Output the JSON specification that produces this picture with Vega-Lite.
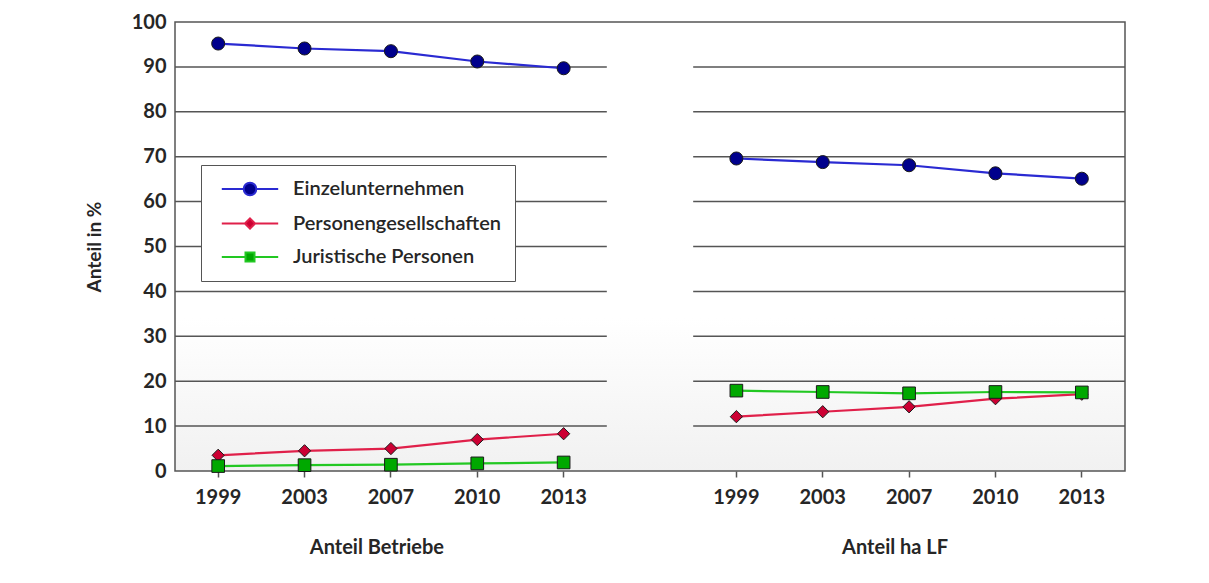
{
  "$schema": "https://vega.github.io/schema/vega-lite/v6.json",
  "width": 950,
  "height": 449,
  "autosize": {"type": "none"},
  "padding": {"left": 175, "top": 22, "right": 84, "bottom": 112},
  "background": "white",
  "config": {
    "font": "Lato",
    "view": {"stroke": "#555555", "strokeWidth": 1.5,
             "fill": {"expr": "{gradient: 'linear', x1: 0, y1: 0, x2: 0, y2: 1, stops: [{offset: 0, color: '#ffffff'}, {offset: 0.66, color: '#ffffff'}, {offset: 1, color: '#f1f1f1'}]}"}}
  },
  "datasets": {
    "grid": [
      {"g": "Anteil Betriebe", "v": 10}, {"g": "Anteil Betriebe", "v": 20}, {"g": "Anteil Betriebe", "v": 30},
      {"g": "Anteil Betriebe", "v": 40}, {"g": "Anteil Betriebe", "v": 50}, {"g": "Anteil Betriebe", "v": 60},
      {"g": "Anteil Betriebe", "v": 70}, {"g": "Anteil Betriebe", "v": 80}, {"g": "Anteil Betriebe", "v": 90},
      {"g": "Anteil ha LF", "v": 10}, {"g": "Anteil ha LF", "v": 20}, {"g": "Anteil ha LF", "v": 30},
      {"g": "Anteil ha LF", "v": 40}, {"g": "Anteil ha LF", "v": 50}, {"g": "Anteil ha LF", "v": 60},
      {"g": "Anteil ha LF", "v": 70}, {"g": "Anteil ha LF", "v": 80}, {"g": "Anteil ha LF", "v": 90}
    ],
    "d": [
      {"g": "Anteil Betriebe", "k": "Anteil Betriebe 1999", "s": "Einzelunternehmen", "v": 95.2},
      {"g": "Anteil Betriebe", "k": "Anteil Betriebe 2003", "s": "Einzelunternehmen", "v": 94.1},
      {"g": "Anteil Betriebe", "k": "Anteil Betriebe 2007", "s": "Einzelunternehmen", "v": 93.5},
      {"g": "Anteil Betriebe", "k": "Anteil Betriebe 2010", "s": "Einzelunternehmen", "v": 91.2},
      {"g": "Anteil Betriebe", "k": "Anteil Betriebe 2013", "s": "Einzelunternehmen", "v": 89.7},
      {"g": "Anteil Betriebe", "k": "Anteil Betriebe 1999", "s": "Personengesellschaften", "v": 3.5},
      {"g": "Anteil Betriebe", "k": "Anteil Betriebe 2003", "s": "Personengesellschaften", "v": 4.5},
      {"g": "Anteil Betriebe", "k": "Anteil Betriebe 2007", "s": "Personengesellschaften", "v": 5.0},
      {"g": "Anteil Betriebe", "k": "Anteil Betriebe 2010", "s": "Personengesellschaften", "v": 7.0},
      {"g": "Anteil Betriebe", "k": "Anteil Betriebe 2013", "s": "Personengesellschaften", "v": 8.3},
      {"g": "Anteil Betriebe", "k": "Anteil Betriebe 1999", "s": "Juristische Personen", "v": 1.1},
      {"g": "Anteil Betriebe", "k": "Anteil Betriebe 2003", "s": "Juristische Personen", "v": 1.3},
      {"g": "Anteil Betriebe", "k": "Anteil Betriebe 2007", "s": "Juristische Personen", "v": 1.4},
      {"g": "Anteil Betriebe", "k": "Anteil Betriebe 2010", "s": "Juristische Personen", "v": 1.7},
      {"g": "Anteil Betriebe", "k": "Anteil Betriebe 2013", "s": "Juristische Personen", "v": 1.9},
      {"g": "Anteil ha LF", "k": "Anteil ha LF 1999", "s": "Einzelunternehmen", "v": 69.6},
      {"g": "Anteil ha LF", "k": "Anteil ha LF 2003", "s": "Einzelunternehmen", "v": 68.8},
      {"g": "Anteil ha LF", "k": "Anteil ha LF 2007", "s": "Einzelunternehmen", "v": 68.1},
      {"g": "Anteil ha LF", "k": "Anteil ha LF 2010", "s": "Einzelunternehmen", "v": 66.3},
      {"g": "Anteil ha LF", "k": "Anteil ha LF 2013", "s": "Einzelunternehmen", "v": 65.1},
      {"g": "Anteil ha LF", "k": "Anteil ha LF 1999", "s": "Personengesellschaften", "v": 12.1},
      {"g": "Anteil ha LF", "k": "Anteil ha LF 2003", "s": "Personengesellschaften", "v": 13.2},
      {"g": "Anteil ha LF", "k": "Anteil ha LF 2007", "s": "Personengesellschaften", "v": 14.3},
      {"g": "Anteil ha LF", "k": "Anteil ha LF 2010", "s": "Personengesellschaften", "v": 16.1},
      {"g": "Anteil ha LF", "k": "Anteil ha LF 2013", "s": "Personengesellschaften", "v": 17.1},
      {"g": "Anteil ha LF", "k": "Anteil ha LF 1999", "s": "Juristische Personen", "v": 17.9},
      {"g": "Anteil ha LF", "k": "Anteil ha LF 2003", "s": "Juristische Personen", "v": 17.6},
      {"g": "Anteil ha LF", "k": "Anteil ha LF 2007", "s": "Juristische Personen", "v": 17.3},
      {"g": "Anteil ha LF", "k": "Anteil ha LF 2010", "s": "Juristische Personen", "v": 17.6},
      {"g": "Anteil ha LF", "k": "Anteil ha LF 2013", "s": "Juristische Personen", "v": 17.5}
    ]
  },
  "layer": [
    {
      "data": {"name": "grid"},
      "mark": {"type": "rule", "color": "#555555", "strokeWidth": 1.5},
      "encoding": {
        "x": {
          "field": "g", "type": "nominal", "bandPosition": 0,
          "scale": {"type": "band", "domain": ["Anteil Betriebe", "Anteil ha LF"], "paddingInner": 0.166667, "paddingOuter": 0},
          "axis": {"orient": "bottom", "title": null, "ticks": false, "domain": false, "grid": false,
                   "labelAngle": 0, "labelPadding": 66, "labelOffset": -14, "labelFontSize": 20,
                   "labelFontWeight": "bold", "labelColor": "#262626"}
        },
        "x2": {"field": "g", "bandPosition": 1},
        "y": {
          "field": "v", "type": "quantitative",
          "scale": {"domain": [0, 100], "nice": false},
          "axis": {"values": [0, 10, 20, 30, 40, 50, 60, 70, 80, 90, 100], "title": "Anteil in %",
                   "titleFontSize": 19, "titleFontWeight": "bold", "titleColor": "#262626", "titlePadding": 27,
                   "labelFontSize": 20, "labelFontWeight": "bold", "labelColor": "#262626",
                   "ticks": false, "domain": false, "grid": false, "labelPadding": 9}
        }
      }
    },
    {
      "data": {"name": "d"},
      "encoding": {
        "x": {
          "field": "k", "type": "nominal",
          "scale": {"type": "band", "paddingInner": 0, "paddingOuter": 0,
                    "domain": ["Anteil Betriebe 1999", "Anteil Betriebe 2003", "Anteil Betriebe 2007", "Anteil Betriebe 2010", "Anteil Betriebe 2013", "gap",
                               "Anteil ha LF 1999", "Anteil ha LF 2003", "Anteil ha LF 2007", "Anteil ha LF 2010", "Anteil ha LF 2013"]},
          "axis": {"orient": "bottom", "title": null, "domain": false, "grid": false,
                   "values": ["Anteil Betriebe 1999", "Anteil Betriebe 2003", "Anteil Betriebe 2007", "Anteil Betriebe 2010", "Anteil Betriebe 2013",
                              "Anteil ha LF 1999", "Anteil ha LF 2003", "Anteil ha LF 2007", "Anteil ha LF 2010", "Anteil ha LF 2013"],
                   "labelExpr": "substring(datum.value, length(datum.value) - 4)",
                   "labelAngle": 0, "labelFontSize": 20, "labelFontWeight": "bold", "labelColor": "#262626",
                   "ticks": true, "tickSize": 6, "tickColor": "#555555", "tickWidth": 1.5, "labelPadding": 10}
        },
        "y": {"field": "v", "type": "quantitative"}
      },
      "layer": [
        {
          "mark": {"type": "line", "strokeWidth": 2.2},
          "encoding": {
            "detail": {"field": "g"},
            "color": {
              "field": "s", "type": "nominal",
              "scale": {"domain": ["Einzelunternehmen", "Personengesellschaften", "Juristische Personen"],
                        "range": ["#2a2ad2", "#e0204a", "#22c822"]},
              "legend": {
                "orient": "none", "legendX": 26, "legendY": 143, "title": null,
                "fillColor": "white", "strokeColor": "#555555", "padding": 14, "rowPadding": 13.5,
                "labelFontSize": 20, "labelFontWeight": 600, "labelColor": "#262626", "labelLimit": 400,
                "symbolSize": 144, "symbolStrokeWidth": 2, "symbolOffset": 25, "labelOffset": 33,
                "encoding": {
                  "symbols": {
                    "shape": {"value": {"expr": "datum.value === 'Einzelunternehmen' ? 'M-4.7,0H-1.05M1.05,0H4.7M1.05,0A1.05,1.05,0,1,1,-1.05,0A1.05,1.05,0,1,1,1.05,0Z' : datum.value === 'Personengesellschaften' ? 'M-4.7,0H-0.85M0.85,0H4.7M0,-0.85L0.85,0L0,0.85L-0.85,0Z' : 'M-4.7,0H-0.75M0.75,0H4.7M-0.75,-0.75H0.75V0.75H-0.75Z'"}},
                    "fill": {"value": {"expr": "datum.value === 'Einzelunternehmen' ? '#00008c' : datum.value === 'Personengesellschaften' ? '#cc0033' : '#00a800'"}},
                    "stroke": {"value": {"expr": "datum.value === 'Einzelunternehmen' ? '#2a2ad2' : datum.value === 'Personengesellschaften' ? '#e0204a' : '#22c822'"}},
                    "strokeWidth": {"value": 2},
                    "strokeOpacity": {"value": 1},
                    "fillOpacity": {"value": 1},
                    "opacity": {"value": 1}
                  }
                }
              }
            }
          }
        },
        {
          "mark": {"type": "point", "filled": true, "opacity": 1, "stroke": "#1a1a1a", "strokeWidth": 1},
          "encoding": {
            "fill": {
              "field": "s", "type": "nominal",
              "scale": {"range": ["#00008c", "#00a800", "#cc0033"]},
              "legend": null
            },
            "shape": {
              "field": "s", "type": "nominal",
              "scale": {"range": ["circle", "square", "diamond"]},
              "legend": null
            },
            "size": {
              "field": "s", "type": "nominal",
              "scale": {"range": [170, 150, 130]},
              "legend": null
            }
          }
        }
      ]
    }
  ],
  "resolve": {"scale": {"x": "independent"}}
}
